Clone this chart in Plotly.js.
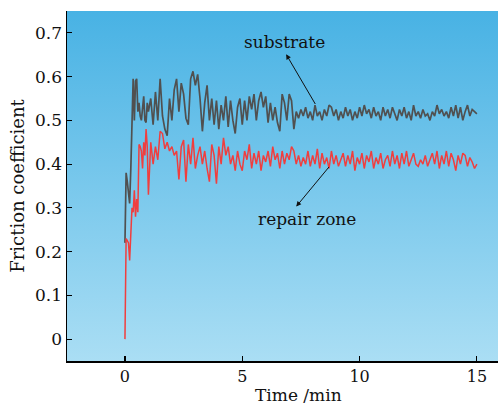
<!DOCTYPE html>
<html>
<head>
<meta charset="utf-8">
<script src="https://cdn.plot.ly/plotly-3.0.1.min.js"></script>
<style>html,body{margin:0;padding:0;background:#fff;}#chart{width:498px;height:404px;}</style>
</head>
<body>
<div id="chart"></div>
<script>
const time = [0,0.05,0.1,0.15,0.2,0.25,0.3,0.35,0.4,0.45,0.5,0.55,0.6,0.65,0.7,0.75,0.8,0.85,0.9,0.95,
1.0,1.1,1.2,1.3,1.4,1.5,1.6,1.7,1.8,1.9,2.0,2.1,2.2,2.3,2.4,2.5,2.6,2.7,2.8,2.9,
3.0,3.1,3.2,3.3,3.4,3.5,3.6,3.7,3.8,3.9,4.0,4.1,4.2,4.3,4.4,4.5,4.6,4.7,4.8,4.9,
5.0,5.1,5.2,5.3,5.4,5.5,5.6,5.7,5.8,5.9,6.0,6.1,6.2,6.3,6.4,6.5,6.6,6.7,6.8,6.9,
7.0,7.1,7.2,7.3,7.4,7.5,7.6,7.7,7.8,7.9,8.0,8.1,8.2,8.3,8.4,8.5,8.6,8.7,8.8,8.9,
9.0,9.1,9.2,9.3,9.4,9.5,9.6,9.7,9.8,9.9,10.0,10.1,10.2,10.3,10.4,10.5,10.6,10.7,10.8,10.9,
11.0,11.1,11.2,11.3,11.4,11.5,11.6,11.7,11.8,11.9,12.0,12.1,12.2,12.3,12.4,12.5,12.6,12.7,12.8,12.9,
13.0,13.1,13.2,13.3,13.4,13.5,13.6,13.7,13.8,13.9,14.0,14.1,14.2,14.3,14.4,14.5,14.6,14.7,14.8,14.9,15.0];

const substrate = [0.22,0.38,0.36,0.33,0.31,0.39,0.50,0.595,0.50,0.59,0.595,0.52,0.54,0.51,0.50,0.53,0.555,0.50,0.495,0.54,
0.52,0.55,0.49,0.565,0.50,0.595,0.51,0.48,0.465,0.55,0.50,0.57,0.595,0.52,0.585,0.56,0.505,0.49,0.595,0.612,
0.58,0.605,0.55,0.475,0.54,0.58,0.50,0.55,0.49,0.545,0.48,0.535,0.50,0.555,0.485,0.545,0.50,0.47,0.53,0.55,
0.49,0.545,0.50,0.555,0.525,0.56,0.50,0.545,0.565,0.53,0.555,0.495,0.54,0.50,0.53,0.495,0.475,0.56,0.54,0.50,
0.56,0.545,0.48,0.52,0.505,0.525,0.51,0.53,0.505,0.52,0.50,0.535,0.51,0.52,0.50,0.525,0.51,0.535,0.53,0.51,
0.525,0.50,0.52,0.505,0.53,0.51,0.525,0.50,0.52,0.505,0.53,0.51,0.535,0.515,0.525,0.505,0.53,0.51,0.52,0.50,
0.53,0.51,0.525,0.505,0.53,0.515,0.50,0.525,0.51,0.53,0.505,0.52,0.50,0.535,0.51,0.52,0.505,0.525,0.51,0.515,
0.50,0.52,0.51,0.535,0.515,0.525,0.51,0.52,0.505,0.53,0.51,0.535,0.505,0.53,0.50,0.52,0.535,0.51,0.525,0.52,0.515];

const repairZone = [0.0,0.23,0.225,0.22,0.18,0.25,0.30,0.29,0.34,0.28,0.32,0.29,0.445,0.44,0.43,0.39,0.45,0.42,0.48,0.44,
0.33,0.45,0.40,0.44,0.41,0.475,0.47,0.435,0.45,0.43,0.44,0.42,0.43,0.365,0.44,0.455,0.36,0.445,0.40,0.46,
0.39,0.42,0.44,0.40,0.43,0.39,0.36,0.445,0.42,0.355,0.44,0.40,0.46,0.42,0.44,0.40,0.42,0.385,0.43,0.40,
0.385,0.43,0.41,0.445,0.39,0.425,0.40,0.43,0.385,0.42,0.405,0.43,0.395,0.44,0.41,0.425,0.39,0.43,0.40,0.425,
0.41,0.44,0.43,0.40,0.42,0.395,0.415,0.40,0.43,0.395,0.42,0.40,0.435,0.39,0.425,0.40,0.415,0.39,0.43,0.40,
0.42,0.395,0.41,0.425,0.395,0.42,0.40,0.43,0.385,0.415,0.40,0.425,0.39,0.42,0.405,0.43,0.39,0.415,0.40,0.425,
0.39,0.41,0.42,0.395,0.43,0.40,0.42,0.39,0.425,0.40,0.43,0.395,0.41,0.425,0.40,0.395,0.41,0.40,0.42,0.395,
0.41,0.425,0.40,0.43,0.39,0.42,0.40,0.43,0.395,0.425,0.41,0.385,0.42,0.40,0.425,0.42,0.395,0.415,0.405,0.39,0.40];

const xTicks = [0, 5, 10, 15];
const yTicks = [0, 0.1, 0.2, 0.3, 0.4, 0.5, 0.6, 0.7];
const labelSubstrate = 'substrate';
const labelRepair = 'repair zone';

const FONT = 'DejaVu Serif, serif';

const svg = '<svg xmlns="http://www.w3.org/2000/svg" width="100" height="100" preserveAspectRatio="none" viewBox="0 0 100 100">' +
  '<defs><linearGradient id="g" x1="0" y1="0" x2="0" y2="1">' +
  '<stop offset="0" stop-color="#48b2e4"/><stop offset="1" stop-color="#aadef4"/>' +
  '</linearGradient></defs><rect x="0" y="0" width="100" height="100" fill="url(#g)"/></svg>';
const bgUri = 'data:image/svg+xml;charset=utf-8,' + encodeURIComponent(svg);

const traces = [
  {x: time, y: substrate, type: 'scatter', mode: 'lines', name: labelSubstrate,
   line: {color: '#505050', width: 1.7}},
  {x: time, y: repairZone, type: 'scatter', mode: 'lines', name: labelRepair,
   line: {color: '#f03e3e', width: 1.5}}
];

const layout = {
  width: 498, height: 404,
  margin: {l: 67, r: 0, t: 11, b: 43},
  paper_bgcolor: '#ffffff',
  plot_bgcolor: 'rgba(0,0,0,0)',
  showlegend: false,
  font: {family: FONT, size: 17, color: '#111'},
  images: [{source: bgUri, xref: 'paper', yref: 'paper', x: 0, y: 1, sizex: 1, sizey: 1,
            sizing: 'stretch', xanchor: 'left', yanchor: 'top', layer: 'below'}],
  xaxis: {
    range: [-2.47, 15.9], tickvals: xTicks, ticktext: xTicks.map(String),
    ticks: 'inside', ticklen: 5, tickwidth: 1.2, tickcolor: '#000',
    showline: true, linecolor: '#000', linewidth: 1.5, mirror: false,
    showgrid: false, zeroline: false,
    tickfont: {family: FONT, size: 16, color: '#111'}
  },
  yaxis: {
    range: [-0.05, 0.75], tickvals: yTicks, ticktext: yTicks.map(String),
    ticks: 'inside', ticklen: 5, tickwidth: 1.2, tickcolor: '#000',
    showline: true, linecolor: '#000', linewidth: 1.5, mirror: false,
    showgrid: false, zeroline: false,
    tickfont: {family: FONT, size: 17, color: '#111'},
    title: {text: 'Friction coefficient', font: {family: FONT, size: 18, color: '#111'}, standoff: 6}
  },
  annotations: [
    {x: 0.536, y: 0, xref: 'paper', yref: 'paper', yanchor: 'middle', yshift: -34,
     text: 'Time /min', showarrow: false, font: {family: FONT, size: 17, color: '#111'}},
    {x: 6.78, y: 0.68, xref: 'x', yref: 'y', text: labelSubstrate, showarrow: false,
     font: {family: FONT, size: 17, color: '#111'}},
    {x: 7.76, y: 0.275, xref: 'x', yref: 'y', text: labelRepair, showarrow: false,
     font: {family: FONT, size: 17, color: '#111'}},
    {x: 6.87, y: 0.651, ax: 8.15, ay: 0.534, xref: 'x', yref: 'y', axref: 'x', ayref: 'y',
     text: '', showarrow: true, arrowhead: 2, arrowsize: 1, arrowwidth: 1, arrowcolor: '#111', standoff: 0},
    {x: 7.30, y: 0.303, ax: 8.75, ay: 0.397, xref: 'x', yref: 'y', axref: 'x', ayref: 'y',
     text: '', showarrow: true, arrowhead: 2, arrowsize: 1, arrowwidth: 1, arrowcolor: '#111', standoff: 0}
  ]
};

Plotly.newPlot('chart', traces, layout, {displayModeBar: false, staticPlot: true});
</script>
</body>
</html>
